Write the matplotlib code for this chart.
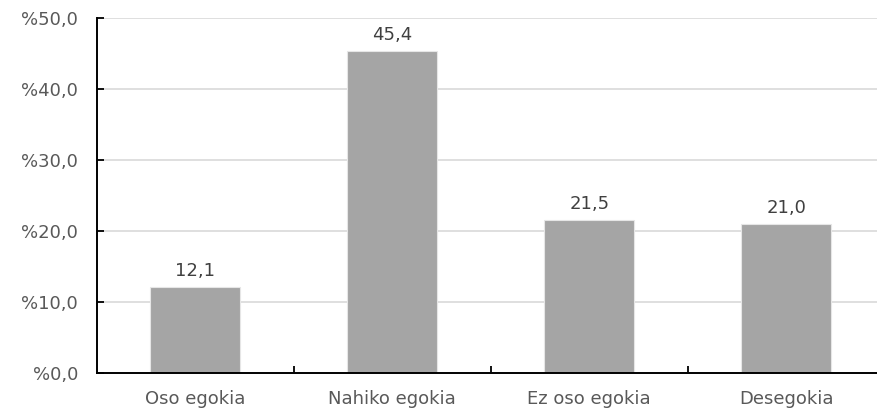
import numpy as np
import matplotlib.pyplot as plt
from matplotlib.ticker import FuncFormatter

categories = ["Oso egokia", "Nahiko egokia", "Ez oso egokia", "Desegokia"]
values = [12.1, 45.4, 21.5, 21.0]
y_ticks = [0, 10, 20, 30, 40, 50]

plt.rcParams["font.family"] = ["DejaVu Sans"]

fig = plt.figure(figsize=(8.77, 4.11), dpi=100)
ax = fig.add_axes([0.1106, 0.0925, 0.889, 0.8635])

x = np.arange(len(categories))
ax.bar(x, values, width=0.457, color="#a5a5a5", edgecolor="#e6e6e6", linewidth=0.8, zorder=2)

# value labels above the bars, decimal comma
for xi, v in zip(x, values):
    ax.text(xi, v + 1.0, f"{v:.1f}".replace(".", ","), ha="center", va="bottom",
            fontsize=13, color="#404040")

ax.set_ylim(0, 50)
ax.set_xlim(-0.5, 3.46)
ax.set_yticks(y_ticks)
ax.yaxis.set_major_formatter(FuncFormatter(lambda v, p: "%" + f"{v:.1f}".replace(".", ",")))
ax.grid(axis="y", color="#d9d9d9", linewidth=1.2, zorder=0)

ax.set_xticks(x)
ax.set_xticklabels(categories)
ax.set_xticks([0.5, 1.5, 2.5], minor=True)
ax.tick_params(axis="x", which="major", length=0, pad=12, labelsize=13, labelcolor="#595959")
ax.tick_params(axis="x", which="minor", direction="in", length=5, width=1.3, color="black")
ax.tick_params(axis="y", direction="in", length=5, width=1.3, pad=13.5, labelsize=13,
               labelcolor="#595959")

for s in ["top", "right"]:
    ax.spines[s].set_visible(False)
for s in ["left", "bottom"]:
    ax.spines[s].set_linewidth(1.4)
    ax.spines[s].set_color("black")

fig.savefig("out.png", dpi=100)
